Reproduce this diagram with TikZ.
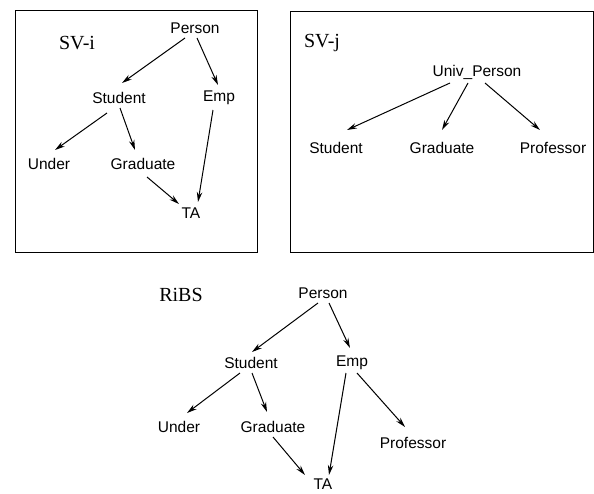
\documentclass[tikz,border=0pt]{standalone}
\usepackage{fontspec}
\setmainfont{Liberation Serif}
\setsansfont{Liberation Sans}
\usetikzlibrary{arrows.meta,calc}
\begin{document}
\begin{tikzpicture}[x=1pt,y=-1pt,
  cls/.style={font=\sffamily\fontsize{15.5}{18}\selectfont, inner sep=0pt},
  viewname/.style={font=\fontsize{20}{24}\selectfont, inner sep=0pt},
  isa/.style={-{Stealth[length=10pt,width=5.5pt]}, line width=1pt},
  frame/.style={line width=0.9pt}]
\useasboundingbox (0,0) rectangle (594,493);

% ---- view SV-i ----
\draw[frame] (15,10) rectangle (257,252);
\node[viewname] (svi) at (77,43) {SV-i};
\node[cls] (p1) at (195,28) {Person};
\node[cls] (s1) at (119,98) {Student};
\node[cls] (e1) at (219,98) {Emp};
\node[cls] (u1) at (49,164) {Under};
\node[cls] (g1) at (143,164) {Graduate};
\node[cls] (t1) at (191,213) {TA};
\draw[isa] ($(p1)+(-10,10)$) -- ($(s1)+(3,-15)$);
\draw[isa] ($(p1)+(2,10)$) -- ($(e1)+(-1,-13)$);
\draw[isa] ($(s1)+(-12,15)$) -- ($(u1)+(6,-14)$);
\draw[isa] ($(s1)+(1,10)$) -- ($(g1)+(-8,-14)$);
\draw[isa] ($(e1)+(-6,12)$) -- ($(t1)+(7,-11)$);
\draw[isa] ($(g1)+(4,13)$) -- ($(t1)+(-12,-9)$);

% ---- view SV-j ----
\draw[frame] (290,11) rectangle (593,252);
\node[viewname] (svj) at (322,43) {SV-j};
\node[cls] (up2) at (477,72) {Univ\_Person};
\node[cls] (s2) at (336,148) {Student};
\node[cls] (g2) at (442,148) {Graduate};
\node[cls] (pr2) at (553,148) {Professor};
\draw[isa] ($(up2)+(-27,11)$) -- ($(s2)+(11,-18)$);
\draw[isa] ($(up2)+(-9,11)$) -- ($(g2)+(0,-18)$);
\draw[isa] ($(up2)+(8,11)$) -- ($(pr2)+(-13,-18)$);

% ---- integrated schema RiBS ----
\node[viewname] (ribs) at (181,295) {RiBS};
\node[cls] (p3) at (323,293) {Person};
\node[cls] (s3) at (251,363) {Student};
\node[cls] (e3) at (352,363) {Emp};
\node[cls] (u3) at (179,427) {Under};
\node[cls] (g3) at (273,427) {Graduate};
\node[cls] (pr3) at (413,443) {Professor};
\node[cls] (t3) at (323,484) {TA};
\draw[isa] ($(p3)+(-5,10)$) -- ($(s3)+(1,-11)$);
\draw[isa] ($(p3)+(6,10)$) -- ($(e3)+(-2,-15)$);
\draw[isa] ($(s3)+(-11,10)$) -- ($(u3)+(8,-14)$);
\draw[isa] ($(s3)+(1,10)$) -- ($(g3)+(-6,-15)$);
\draw[isa] ($(e3)+(-6,10)$) -- ($(t3)+(6,-9)$);
\draw[isa] ($(e3)+(5,10)$) -- ($(pr3)+(-8,-16)$);
\draw[isa] ($(g3)+(0,10)$) -- ($(t3)+(-18,-9)$);
\end{tikzpicture}
\end{document}
